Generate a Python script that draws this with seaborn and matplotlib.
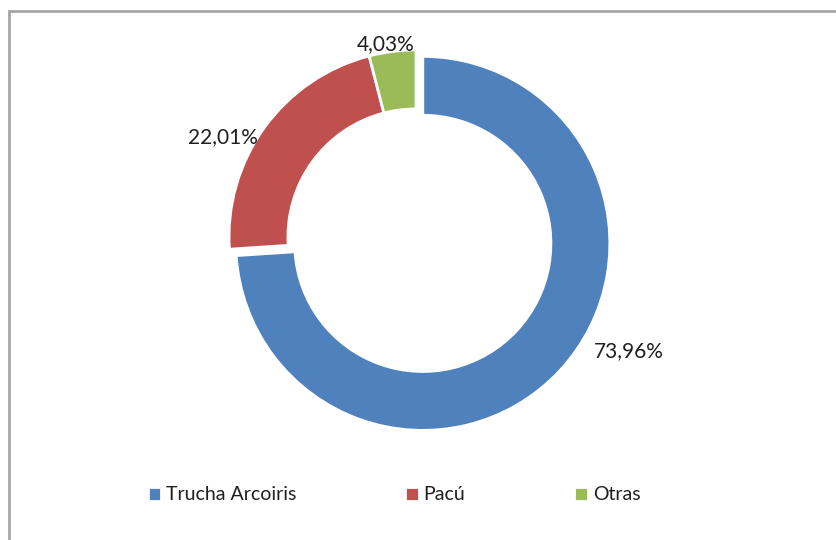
import matplotlib
matplotlib.use("Agg")
import matplotlib.pyplot as plt
import seaborn as sns
import numpy as np

especies = ["Trucha Arcoiris", "Pacú", "Otras"]
porcentajes = [73.96, 22.01, 4.03]
etiquetas = ["73,96%", "22,01%", "4,03%"]

sns.set_theme(style="white")
plt.rcParams['font.family'] = ['Lato', 'DejaVu Sans']
colores = ["#4F81BD", "#C0504D", "#9BBB59"]

fig = plt.figure(figsize=(8.36, 5.40), dpi=100)

# chart area border (cut at the right and bottom like the screenshot)
borde = plt.Rectangle((9 / 836, -0.05), 1.2, 1 - 11 / 540 + 0.05, transform=fig.transFigure,
                      fill=False, edgecolor="#A6A6A6", linewidth=2)
fig.patches.append(borde)

R = 187
half = 1.4 * R
ax = fig.add_axes([(416 - half) / 836, (303 - half) / 540, 2 * half / 836, 2 * half / 540])
wedges, _ = ax.pie(porcentajes, colors=colores, startangle=90, counterclock=False,
                   radius=1, explode=[0.05, 0, 0],
                   wedgeprops=dict(width=0.315, edgecolor="white", linewidth=2))
ax.set_xlim(-1.4, 1.4)
ax.set_ylim(-1.4, 1.4)
ax.set_aspect("auto")
ax.axis("off")

# label placement (angle in degrees, distance in radii)
pos = [(-27.6, 1.24), (152.7, 1.16), (99, 1.045)]
for w, txt, (ang, d) in zip(wedges, etiquetas, pos):
    cx, cy = w.center
    a = np.deg2rad(ang)
    ax.text(cx + d * np.cos(a), cy + d * np.sin(a), txt, ha="center", va="center",
            fontsize=15, color="#1f1f1f")

fig.legend(wedges, especies, loc="center", bbox_to_anchor=(394 / 836, 1 - 495 / 540),
           ncol=3, frameon=False, fontsize=14, handlelength=0.7, handleheight=0.7,
           handletextpad=0.25, columnspacing=5.6, labelcolor="#1f1f1f")

fig.savefig("out.png", dpi=100)
